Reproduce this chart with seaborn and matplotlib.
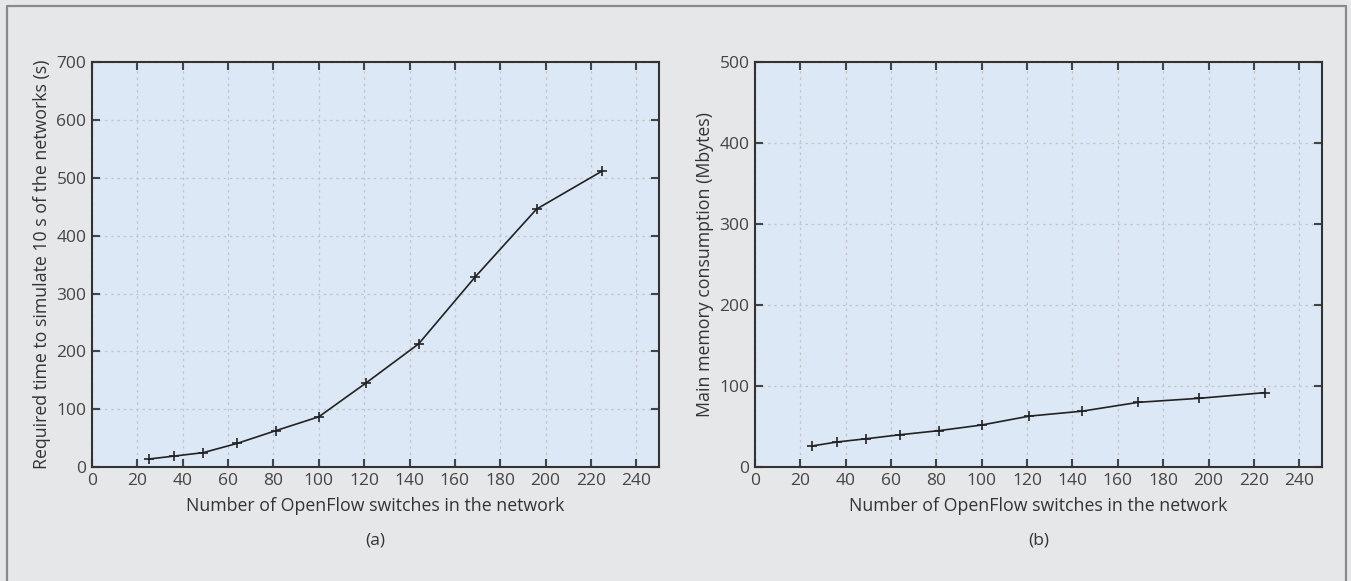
import numpy as np
import pandas as pd
import seaborn as sns
import matplotlib.pyplot as plt
from matplotlib.lines import Line2D

# data
switches = [25, 36, 49, 64, 81, 100, 121, 144, 169, 196, 225]
sim_time = [14, 19, 25, 41, 63, 87, 146, 213, 329, 446, 512]
memory = [26, 31, 35, 40, 45, 52, 63, 69, 80, 85, 92]

xticks = list(range(0, 241, 20))

sns.set_theme(style='ticks')
plt.rcParams['font.family'] = ['Open Sans', 'DejaVu Sans']
plt.rcParams['text.color'] = '#333333'
plt.rcParams['axes.labelcolor'] = '#333333'
plt.rcParams['xtick.color'] = '#444444'
plt.rcParams['ytick.color'] = '#444444'

fig = plt.figure(figsize=(13.51, 5.81), dpi=100)
fig.patch.set_facecolor('#e6e7e8')
# frame round the figure (open at the bottom, like the reference crop)
bx = [0.0055, 0.0055, 0.9963, 0.9963]
by = [0.0, 0.9895, 0.9895, 0.0]
fig.lines.append(Line2D(bx, by, transform=fig.transFigure, color='#8a8a8a', linewidth=1.6))

ax1 = fig.add_axes([0.0681, 0.196, 0.4197, 0.697])
ax2 = fig.add_axes([0.5588, 0.196, 0.4197, 0.697])

df = pd.DataFrame({'switches': switches, 'time': sim_time, 'mem': memory})

panels = [
    (ax1, 'time', 'Required time to simulate 10 s of the networks (s)', 700, '(a)'),
    (ax2, 'mem', 'Main memory consumption (Mbytes)', 500, '(b)'),
]

for ax, col, ylab, ymax, tag in panels:
    ax.set_facecolor('#dce8f5')
    sns.lineplot(data=df, x='switches', y=col, ax=ax, color='#222222', linewidth=1.2,
                 marker='+', markersize=7, markeredgewidth=1.2, markeredgecolor='#222222')
    ax.set_xlim(0, 250)
    ax.set_ylim(0, ymax)
    ax.set_xticks(xticks)
    ax.set_yticks(range(0, ymax + 1, 100))
    ax.grid(True, color='#c2c6cc', linestyle=(0, (2, 3)), linewidth=0.9)
    ax.tick_params(direction='in', length=6, width=1.5, top=True, right=True,
                   labelsize=12.5, pad=4)
    for s in ax.spines.values():
        s.set_color('#333333')
        s.set_linewidth(1.5)
    ax.set_xlabel('Number of OpenFlow switches in the network', fontsize=12.8, labelpad=6)
    ax.set_ylabel(ylab, fontsize=12.8, labelpad=4)
    ax.text(0.5, -0.18, tag, transform=ax.transAxes, ha='center', va='center', fontsize=12.5)

fig.savefig('out.png', dpi=100, facecolor=fig.get_facecolor())
